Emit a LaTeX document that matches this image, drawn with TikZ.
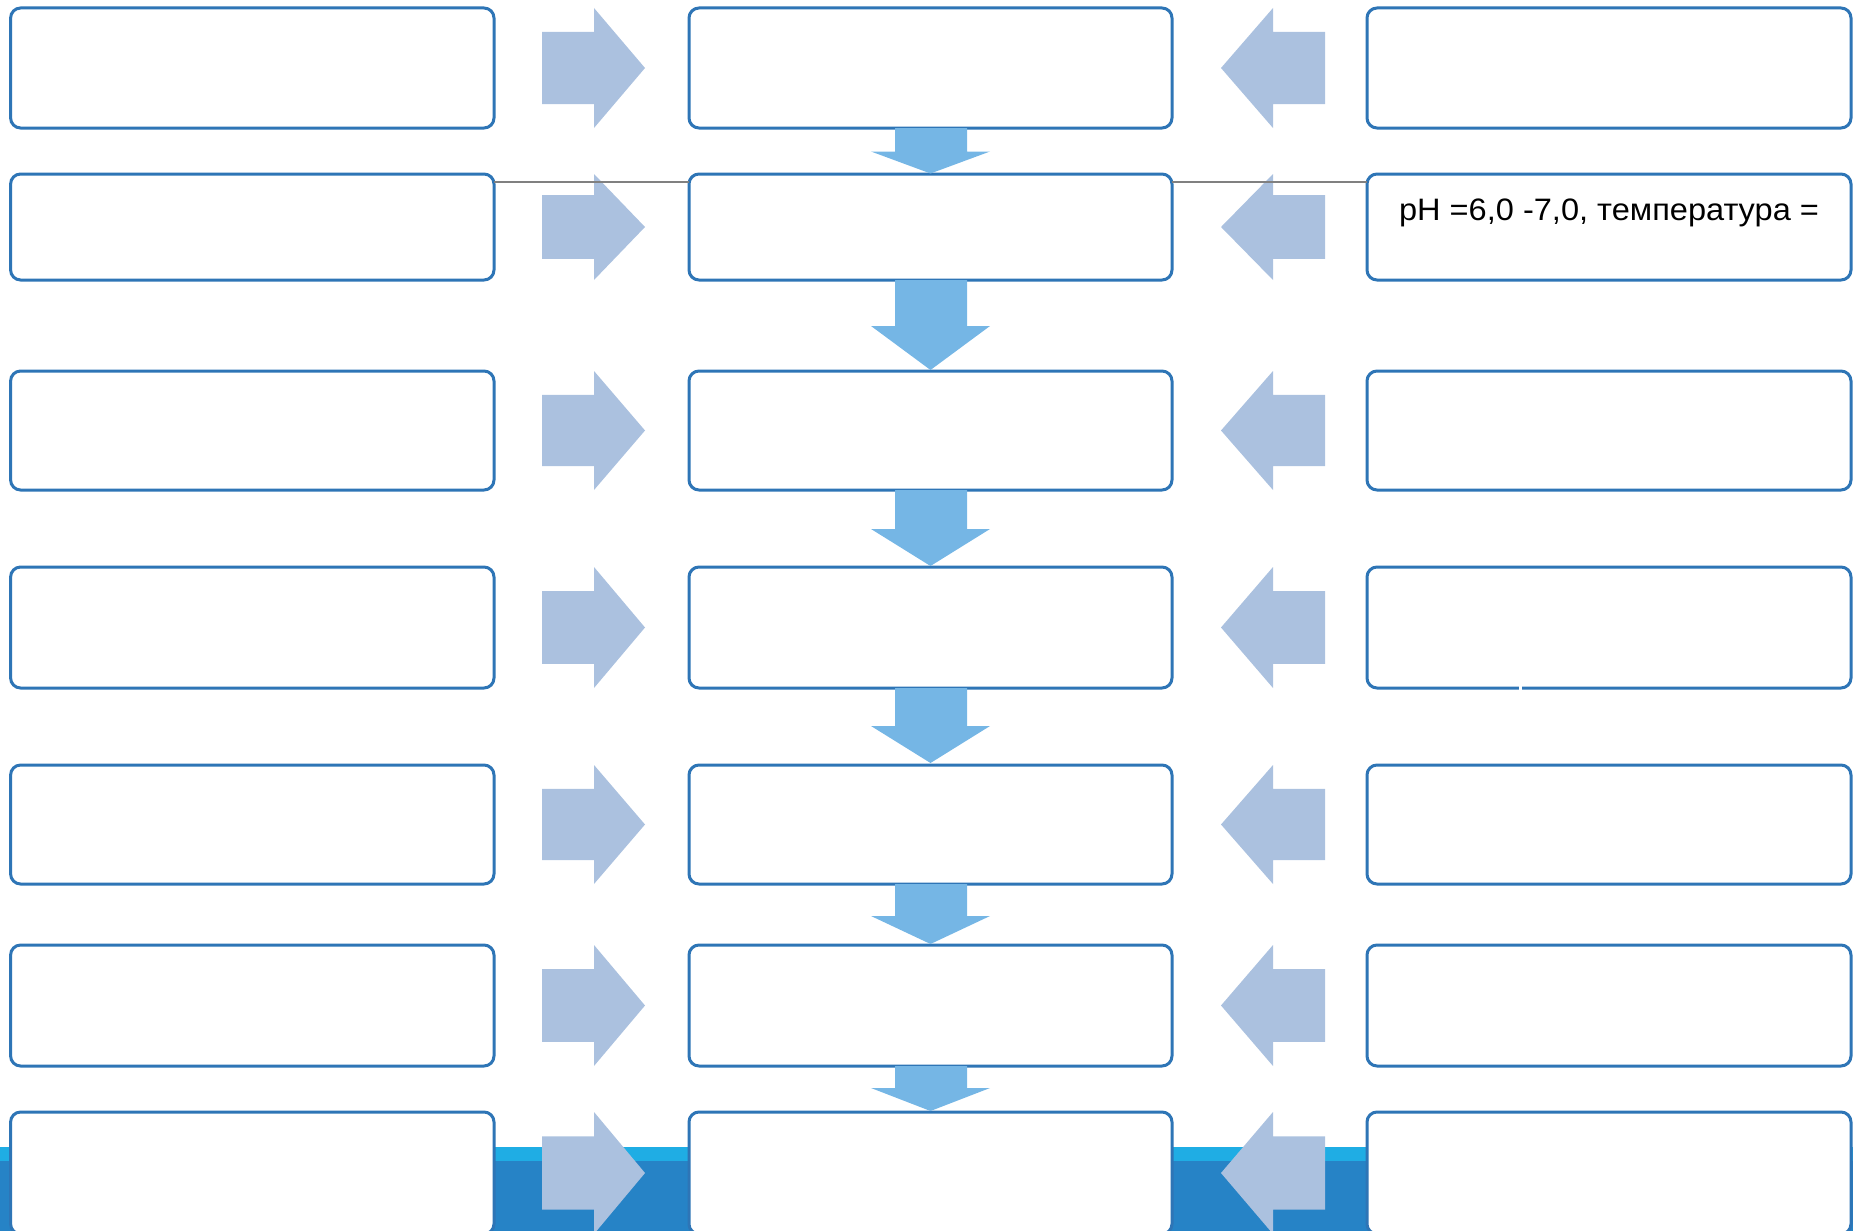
\documentclass[tikz,border=0pt]{standalone}
\usepackage{fontspec}
\newfontfamily\reftext[FakeStretch=1.05]{Liberation Sans}
\definecolor{boxblue}{RGB}{46,117,182}
\definecolor{sideblue}{RGB}{171,193,223}
\definecolor{downblue}{RGB}{117,182,229}
\definecolor{bandlight}{RGB}{31,173,228}
\definecolor{banddark}{RGB}{38,131,198}
\definecolor{linegray}{RGB}{128,128,128}
\tikzset{
  box/.style={draw=boxblue, line width=3pt, rounded corners=10pt, fill=white, inner sep=0pt, outer sep=0pt},
  sidearrow/.style={fill=sideblue},
  downarrow/.style={fill=downblue},
  joinline/.style={draw=linegray, line width=1.8pt}
}
\newcommand\myBox[5]{%
  \pgfmathsetmacro\bw{#4-#2}\pgfmathsetmacro\bh{#5-#3}%
  \pgfmathsetmacro\bx{(#2+#4)/2}\pgfmathsetmacro\by{(#3+#5)/2}%
  \node[box, minimum width=\bw pt, minimum height=\bh pt] (#1) at (\bx,\by) {};}
\newcommand\myRArrow[2]{%
  \pgfmathsetmacro\ta{#1+0.2*(#2-#1)}\pgfmathsetmacro\tb{#2-0.2*(#2-#1)}\pgfmathsetmacro\tm{(#1+#2)/2}%
  \fill[sidearrow] (542,\ta) -- (594,\ta) -- (594,#1) -- (645,\tm) -- (594,#2) -- (594,\tb) -- (542,\tb) -- cycle;}
\newcommand\myLArrow[2]{%
  \pgfmathsetmacro\ta{#1+0.2*(#2-#1)}\pgfmathsetmacro\tb{#2-0.2*(#2-#1)}\pgfmathsetmacro\tm{(#1+#2)/2}%
  \fill[sidearrow] (1325,\ta) -- (1273,\ta) -- (1273,#1) -- (1221,\tm) -- (1273,#2) -- (1273,\tb) -- (1325,\tb) -- cycle;}
\newcommand\myDArrow[3]{%
  \fill[downarrow] (895,#1) -- (967,#1) -- (967,#2) -- (990,#2) -- (930.5,#3) -- (871,#2) -- (895,#2) -- cycle;}
\begin{document}
\begin{tikzpicture}[x=1pt,y=-1pt]
\useasboundingbox (0,0) rectangle (1853,1231);
\clip (0,0) rectangle (1853,1231);
% bottom band
\fill[bandlight] (0,1147) rectangle (1853,1161);
\fill[banddark] (0,1161) rectangle (1853,1231);
% boxes
\foreach \r/\t/\b in {1/8/128, 2/174/280, 3/371/490, 4/567/688, 5/765/884, 6/945/1066, 7/1112/1234}{
  \myBox{L\r}{10.6}{\t}{494}{\b}
  \myBox{M\r}{689}{\t}{1172}{\b}
  \myBox{R\r}{1367}{\t}{1851}{\b}
  \myRArrow{\t}{\b}
  \myLArrow{\t}{\b}
}
% down arrows
\myDArrow{128}{151.5}{173.5}
\myDArrow{280}{326}{370}
\myDArrow{490}{529}{566}
\myDArrow{688}{726}{763}
\myDArrow{884}{916}{944}
\myDArrow{1066}{1088}{1111}
% gray lines in row 2
\coordinate (lineY) at (0,182);
\draw[joinline] (L2.east |- lineY) -- (M2.west |- lineY);
\draw[joinline] (M2.east |- lineY) -- (R2.west |- lineY);
% small gap in R4 border
\fill[white] (1519,684) rectangle (1522,691);
% text
\node[anchor=base, inner sep=0pt, font=\reftext\fontsize{31}{37}\selectfont] (phtext) at (1609,220) {pH =6,0 -7,0, температура =};
\end{tikzpicture}
\end{document}
